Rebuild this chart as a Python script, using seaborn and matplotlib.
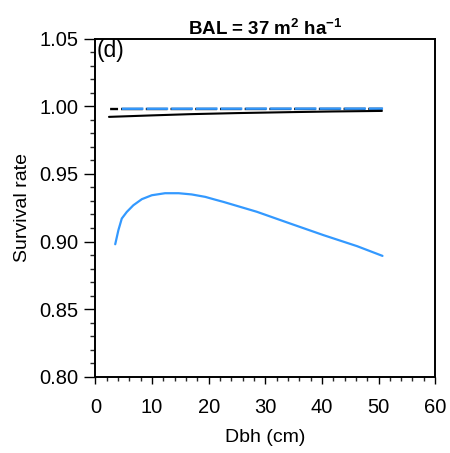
import matplotlib
matplotlib.use("Agg")
import matplotlib.pyplot as plt
import seaborn as sns
from matplotlib.ticker import FormatStrFormatter, MultipleLocator

# Dbh (cm) and survival rates
dbh_blue = [3.5, 4.06, 4.66, 5.55, 6.7, 8.2, 9.96, 12.3, 14.7, 17.0, 19.4, 21.1,
            22.6, 28.5, 34.4, 40.3, 46.2, 50.7]
surv_blue = [0.898, 0.9084, 0.917, 0.9219, 0.9268, 0.9313, 0.9342, 0.9357, 0.9357,
             0.9348, 0.933, 0.931, 0.9293, 0.922, 0.9133, 0.9047, 0.8966, 0.8894]

dbh_black = [2.4, 10.0, 16.7, 25.0, 34.4, 42.0, 50.6]
surv_black = [0.9921, 0.9932, 0.9941, 0.9949, 0.9956, 0.9961, 0.9965]

dbh_dash_black = [2.6, 50.7]
surv_dash_black = [0.9979, 0.9980]
dbh_dash_blue = [4.66, 50.8]
surv_dash_blue = [0.9981, 0.9982]

blue = "#3399ff"

sns.set_style("ticks")
plt.rcParams["font.family"] = ["Liberation Sans", "DejaVu Sans"]
plt.rcParams["mathtext.fontset"] = "custom"
plt.rcParams["mathtext.rm"] = "Liberation Sans"
plt.rcParams["mathtext.bf"] = "Liberation Sans:bold"
plt.rcParams["lines.scale_dashes"] = False
plt.rcParams["axes.labelcolor"] = "black"
plt.rcParams["text.color"] = "black"

fig = plt.figure(figsize=(4.5, 4.53), dpi=100)
ax = fig.add_axes([0.212, 0.168, 0.755, 0.747])

sns.lineplot(x=dbh_dash_black, y=surv_dash_black, ax=ax, color="black", linewidth=1.7)
ax.lines[-1].set_linestyle((9.9, (15.6, 2.2)))
sns.lineplot(x=dbh_dash_blue, y=surv_dash_blue, ax=ax, color=blue, linewidth=1.7)
ax.lines[-1].set_linestyle((0, (15.6, 2.2)))
sns.lineplot(x=dbh_black, y=surv_black, ax=ax, color="black", linewidth=1.5)
sns.lineplot(x=dbh_blue, y=surv_blue, ax=ax, color=blue, linewidth=1.6)

ax.set_xlim(0, 60)
ax.set_ylim(0.80, 1.05)
ax.xaxis.set_major_locator(MultipleLocator(10))
ax.xaxis.set_minor_locator(MultipleLocator(2))
ax.yaxis.set_major_locator(MultipleLocator(0.05))
ax.yaxis.set_minor_locator(MultipleLocator(0.01))
ax.yaxis.set_major_formatter(FormatStrFormatter("%.2f"))

for side in ["left", "right", "top", "bottom"]:
    ax.spines[side].set_visible(True)
    ax.spines[side].set_linewidth(1.4)
    ax.spines[side].set_color("black")

ax.tick_params(axis="y", which="major", direction="out", length=8, width=1,
               labelsize=14.5, colors="black", pad=4)
ax.tick_params(axis="y", which="minor", direction="out", length=3.5, width=1)
ax.tick_params(axis="x", which="major", direction="out", length=5, width=1,
               labelsize=14.5, colors="black", pad=10)
ax.tick_params(axis="x", which="minor", direction="out", length=3, width=1)

ax.set_xlabel("Dbh (cm)", fontsize=14, labelpad=9, color="black")
ax.set_ylabel("Survival rate", fontsize=14, labelpad=6, color="black")
ax.set_title(r"BAL = 37 m$^{\mathbf{2}}$ ha$^{\mathbf{-1}}$", fontsize=13.5,
             fontweight="bold", pad=1.5, color="black")
ax.text(0.003, 1.0, "(d)", transform=ax.transAxes, fontsize=16.5,
        ha="left", va="top", color="black")

fig.savefig("out.png", dpi=100)
